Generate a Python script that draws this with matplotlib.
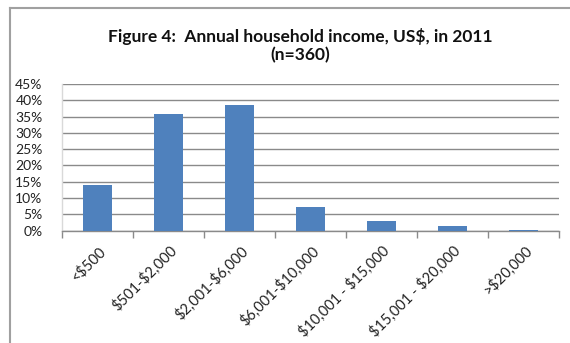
import matplotlib
matplotlib.use("Agg")
import matplotlib.pyplot as plt
from matplotlib.lines import Line2D
import matplotlib.transforms as mtrans
import numpy as np

categories = ["<$500", "$501-$2,000", "$2,001-$6,000", "$6,001-$10,000",
              "$10,001 - $15,000", "$15,001 - $20,000", ">$20,000"]
values = [13.9, 35.8, 38.6, 7.2, 2.8, 1.4, 0.3]
yticks = [0, 5, 10, 15, 20, 25, 30, 35, 40, 45]
title_lines = ["Figure 4:  Annual household income, US$, in 2011", "(n=360)"]

plt.rcParams['font.family'] = ['Lato', 'DejaVu Sans']


def esc(s):
    return s.replace("$", r"\$")


W, H = 570, 343
fig = plt.figure(figsize=(W / 100, H / 100), dpi=100)
fig.patch.set_facecolor("white")

ax = fig.add_axes([62 / W, 1 - 230.5 / H, (559 - 62) / W, (230.5 - 84) / H])
x = np.arange(len(categories))
ax.bar(x, values, width=0.41, color="#4F81BD", zorder=3)
ax.set_xlim(-0.5, len(categories) - 0.5)
ax.set_ylim(0, 45)
ax.set_yticks(yticks)
ax.set_yticklabels([f"{v}%" for v in yticks], fontsize=10, color="#222222")
ax.yaxis.grid(True, color="#8a8a8a", linewidth=1.0, zorder=0)
ax.set_axisbelow(True)
ax.tick_params(axis="y", length=0, pad=14)

ax.set_xticks(x)
ax.set_xticklabels([esc(c) for c in categories], rotation=45, ha="right", va="center",
                   rotation_mode="anchor", fontsize=10.5, color="#222222")
ax.tick_params(axis="x", which="major", length=0, pad=13)
ax.set_xticks(np.arange(-0.5, len(categories), 1.0), minor=True)
ax.tick_params(axis="x", which="minor", length=5, width=1, color="#8a8a8a", direction="out")
offset = mtrans.ScaledTranslation(6 / 100, 0, fig.dpi_scale_trans)
for lbl in ax.get_xticklabels():
    lbl.set_transform(lbl.get_transform() + offset)

for s in ["top", "right"]:
    ax.spines[s].set_visible(False)
ax.spines["left"].set_color("#d9d9d9")
ax.spines["left"].set_linewidth(1.0)
ax.spines["bottom"].set_color("#8a8a8a")
ax.spines["bottom"].set_linewidth(1.0)

fig.text(300 / W, 1 - 42 / H, esc(title_lines[0]), ha="center", va="baseline",
         fontsize=12.5, fontweight="bold", color="#111111")
fig.text(300 / W, 1 - 60 / H, esc(title_lines[1]), ha="center", va="baseline",
         fontsize=12.5, fontweight="bold", color="#111111")

# chart frame (top and left edges visible)
fig.add_artist(Line2D([9.5 / W, 1.0], [1 - 7.5 / H, 1 - 7.5 / H],
                      transform=fig.transFigure, color="#a0a0a0", linewidth=1.5))
fig.add_artist(Line2D([9.5 / W, 9.5 / W], [0, 1 - 7.5 / H],
                      transform=fig.transFigure, color="#a0a0a0", linewidth=1.5))

fig.savefig("out.png", dpi=100, facecolor="white")
